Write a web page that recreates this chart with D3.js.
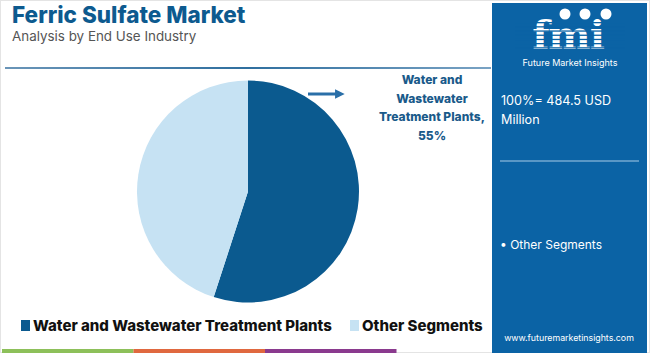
<!DOCTYPE html>
<html>
<head>
<meta charset="utf-8">
<script src="https://cdn.jsdelivr.net/npm/d3@7"></script>
<style>
  body { margin: 0; background: #fff; }
  svg { display: block; }
</style>
</head>
<body>
<div id="chart"></div>
<script>
// data
const segments = ["Water and Wastewater Treatment Plants", "Other Segments"];
const shares = [55, 45];
const colors = ["#0b5a8f", "#c6e2f3"];
const totalLabel = ["100%= 484.5 USD", "Million"];
const calloutLines = ["Water and", "Wastewater", "Treatment Plants,", "55%"];
const stripColors = ["#8dc05a", "#e0683f", "#8a3a8e"];

const width = 650, height = 353;

const svg = d3.select("#chart")
    .append("svg")
    .attr("width", width)
    .attr("height", height);

// faint frame
svg.append("rect")
    .attr("x", 0.5).attr("y", 0.5)
    .attr("width", width - 1).attr("height", height - 1)
    .attr("fill", "none").attr("stroke", "#e4e4e4");

// title
svg.append("text")
    .attr("x", 12).attr("y", 23)
    .attr("font-family", "Inter, 'Open Sans', sans-serif")
    .attr("font-weight", 800)
    .attr("font-size", 22.5)
    .attr("fill", "#0d5a8f")
    .text("Ferric Sulfate Market");

svg.append("text")
    .attr("x", 12).attr("y", 41)
    .attr("font-family", "Inter, 'Open Sans', sans-serif")
    .attr("font-size", 13.4)
    .attr("fill", "#555")
    .text("Analysis by End Use Industry");

// rule under title
const grad = svg.append("defs").append("linearGradient").attr("id", "rule");
grad.append("stop").attr("offset", "0%").attr("stop-color", "#6a95b8");
grad.append("stop").attr("offset", "50%").attr("stop-color", "#2f6f9f");
grad.append("stop").attr("offset", "100%").attr("stop-color", "#7aa3c4");
svg.append("rect")
    .attr("x", 5).attr("y", 67)
    .attr("width", 486).attr("height", 2)
    .attr("fill", "url(#rule)");

// pie
const cx = 248, cy = 191.5, r = 111;
const pie = d3.pie().sort(null).value(d => d)(shares);
const arc = d3.arc().innerRadius(0).outerRadius(r);
svg.append("g")
    .attr("transform", `translate(${cx},${cy})`)
    .selectAll("path")
    .data(pie)
    .join("path")
    .attr("d", arc)
    .attr("fill", (d, i) => colors[i]);

// callout arrow
svg.append("defs").append("marker")
    .attr("id", "head")
    .attr("viewBox", "0 0 10 10")
    .attr("refX", 2).attr("refY", 5)
    .attr("markerWidth", 3.2).attr("markerHeight", 3.2)
    .attr("orient", "auto")
    .append("path")
    .attr("d", "M0,0 L10,5 L0,10 Z")
    .attr("fill", "#2a6fa8");
svg.append("line")
    .attr("x1", 308).attr("y1", 94)
    .attr("x2", 337).attr("y2", 94)
    .attr("stroke", "#2a6fa8")
    .attr("stroke-width", 3)
    .attr("marker-end", "url(#head)");

svg.append("g")
    .selectAll("text")
    .data(calloutLines)
    .join("text")
    .attr("x", 432)
    .attr("y", (d, i) => 84 + i * 18.7)
    .attr("text-anchor", "middle")
    .attr("font-family", "Inter, 'Open Sans', sans-serif")
    .attr("font-weight", 800)
    .attr("font-size", 12)
    .attr("fill", "#1a5a8a")
    .text(d => d);

// legend
const legendX = [21, 350];
const legend = svg.append("g")
    .selectAll("g")
    .data(segments)
    .join("g")
    .attr("transform", (d, i) => `translate(${legendX[i]},320)`);
legend.append("rect")
    .attr("width", 9).attr("height", 11)
    .attr("fill", (d, i) => colors[i]);
legend.append("text")
    .attr("x", 12).attr("y", 11)
    .attr("font-family", "Inter, 'Open Sans', sans-serif")
    .attr("font-weight", 800)
    .attr("font-size", 15)
    .attr("fill", "#111")
    .text(d => d);

// bottom strip
const stripW = 131.5;
svg.append("g")
    .selectAll("rect")
    .data(stripColors)
    .join("rect")
    .attr("x", (d, i) => 2 + i * stripW)
    .attr("y", 349)
    .attr("width", stripW).attr("height", 4)
    .attr("fill", d => d);

// side panel
const panel = svg.append("g");
panel.append("rect")
    .attr("x", 492).attr("y", 3)
    .attr("width", 155).attr("height", 350)
    .attr("fill", "#0b63a5");

// logo
const logo = panel.append("g");
logo.append("text")
    .attr("x", 568).attr("y", 49)
    .attr("text-anchor", "middle")
    .attr("font-family", "'DejaVu Serif', serif")
    .attr("font-weight", 700)
    .attr("font-size", 40)
    .attr("letter-spacing", -1)
    .attr("fill", "#fff")
    .text("fmi");
logo.selectAll("rect.stripe")
    .data(d3.range(7))
    .join("rect")
    .attr("class", "stripe")
    .attr("x", 515).attr("y", d => 22 + d * 4.2)
    .attr("width", 110).attr("height", 1.3)
    .attr("fill", "#0b63a5");
logo.selectAll("circle")
    .data([565, 585, 606])
    .join("circle")
    .attr("cx", d => d).attr("cy", 14)
    .attr("r", 5.5)
    .attr("fill", "#fff");
logo.append("text")
    .attr("x", 570).attr("y", 66)
    .attr("text-anchor", "middle")
    .attr("font-family", "Inter, 'Open Sans', sans-serif")
    .attr("font-size", 9)
    .attr("fill", "#fff")
    .text("Future Market Insights");

panel.selectAll("text.total")
    .data(totalLabel)
    .join("text")
    .attr("class", "total")
    .attr("x", 501)
    .attr("y", (d, i) => 105 + i * 19)
    .attr("font-family", "Inter, 'Open Sans', sans-serif")
    .attr("font-size", 12.6)
    .attr("fill", "#fff")
    .text(d => d);

panel.append("line")
    .attr("x1", 500).attr("x2", 639)
    .attr("y1", 161).attr("y2", 161)
    .attr("stroke", "#a8cbe8").attr("stroke-width", 1.2);

panel.append("text")
    .attr("x", 500).attr("y", 249)
    .attr("font-family", "Inter, 'Open Sans', sans-serif")
    .attr("font-size", 12)
    .attr("fill", "#fff")
    .text("\u2022 Other Segments");

panel.append("text")
    .attr("x", 569).attr("y", 341)
    .attr("text-anchor", "middle")
    .attr("font-family", "Inter, 'Open Sans', sans-serif")
    .attr("font-size", 8.8)
    .attr("fill", "#fff")
    .text("www.futuremarketinsights.com");
</script>
</body>
</html>
